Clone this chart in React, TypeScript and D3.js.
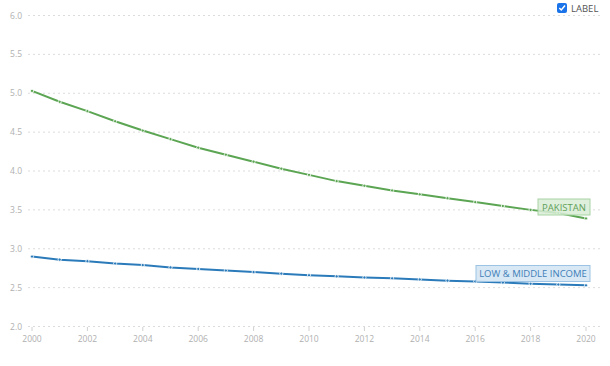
import * as d3 from 'd3'

const years = d3.range(2000, 2021)
const pakistan = [5.03, 4.89, 4.77, 4.64, 4.52, 4.41, 4.3, 4.21, 4.12, 4.03, 3.95, 3.87, 3.81, 3.75, 3.7, 3.65, 3.6, 3.55, 3.5, 3.46, 3.39]
const lowMiddle = [2.9, 2.86, 2.84, 2.81, 2.79, 2.76, 2.74, 2.72, 2.7, 2.68, 2.66, 2.645, 2.63, 2.62, 2.605, 2.59, 2.58, 2.565, 2.55, 2.54, 2.53]
const yTicks = [2.0, 2.5, 3.0, 3.5, 4.0, 4.5, 5.0, 5.5, 6.0]
const xTicks = [2000, 2002, 2004, 2006, 2008, 2010, 2012, 2014, 2016, 2018, 2020]

const series = [
  { name: 'PAKISTAN', values: pakistan, color: '#5ba553', fill: '#d8ecd6', border: '#a8d4a3', text: '#5f9f58', boxX: 538, boxW: 52 },
  { name: 'LOW & MIDDLE INCOME', values: lowMiddle, color: '#2b7bba', fill: '#d2e4f3', border: '#9cc3e4', text: '#3f7fb8', boxX: 476, boxW: 114 },
]

export default function App() {
  const width = 610
  const height = 366
  const x = d3.scaleLinear().domain([2000, 2020]).range([32, 586])
  const y = d3.scaleLinear().domain([2, 6]).range([326.5, 15.5])
  const line = d3.line<number>()
    .x((d, i) => x(years[i]))
    .y(d => y(d))

  return (
    <svg width={width} height={height} style={{ position: 'absolute', left: 0, top: 0, fontFamily: '"Open Sans", sans-serif' }}>
      {yTicks.map(t => (
        <g key={t}>
          <line x1={28} x2={600} y1={y(t)} y2={y(t)} stroke="#dcdcdc" strokeDasharray="2,3" />
          <text x={22} y={y(t) + 3} textAnchor="end" fontSize={8.5} fill="#b0b0b0">{t.toFixed(1)}</text>
        </g>
      ))}
      {xTicks.map(t => (
        <g key={t}>
          <line x1={x(t)} x2={x(t)} y1={327} y2={331} stroke="#d0d0d0" />
          <text x={x(t)} y={342} textAnchor="middle" fontSize={8.5} fill="#b0b0b0">{t}</text>
        </g>
      ))}
      {series.map(s => (
        <g key={s.name}>
          <path d={line(s.values) ?? ''} fill="none" stroke={s.color} strokeWidth={2} />
          {s.values.map((v, i) => (
            <circle key={i} cx={x(years[i])} cy={y(v)} r={1.6} fill={s.color} stroke="#fff" strokeWidth={0.8} />
          ))}
        </g>
      ))}
      {series.map(s => {
        const cy = s.name === 'PAKISTAN' ? 207 : 273.5
        return (
          <g key={s.name + '-label'}>
            <rect x={s.boxX} y={cy - 8} width={s.boxW} height={16} fill={s.fill} fillOpacity={0.85} stroke={s.border} />
            <text x={s.boxX + s.boxW / 2} y={cy + 3.5} textAnchor="middle" fontSize={9.5} fill={s.text}>{s.name}</text>
          </g>
        )
      })}
      <rect x={557} y={3} width={10} height={10} rx={2} fill="#1a73e8" />
      <path d="M559.3,8 L561.3,10 L565,5.6" fill="none" stroke="#fff" strokeWidth={1.5} />
      <text x={571} y={12} fontSize={9.5} fill="#555">LABEL</text>
    </svg>
  )
}
